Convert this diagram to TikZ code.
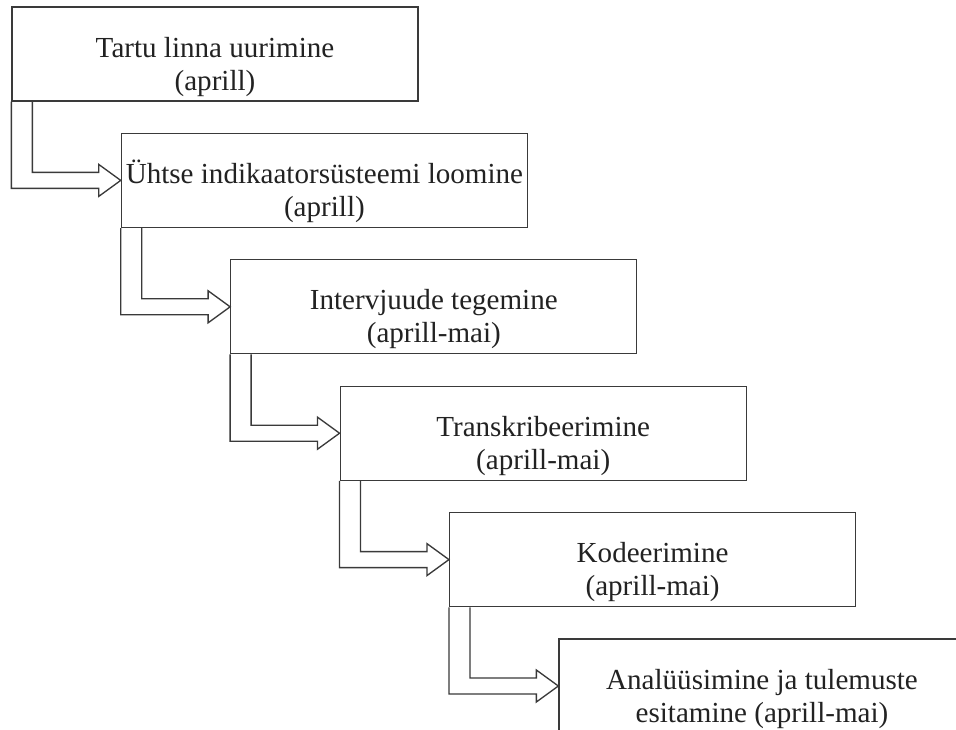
\documentclass[tikz,border=0pt]{standalone}
\usepackage{fontspec}
\setmainfont{Liberation Serif}
\usetikzlibrary{calc}
\definecolor{linec}{HTML}{3A3A3A}
\definecolor{textc}{HTML}{222222}
\tikzset{
  stagebox/.style={draw=linec, line width=1pt, rectangle, inner sep=0pt,
    minimum width=304.5pt, minimum height=70.5pt, align=center, text=textc,
    font=\fontsize{21.8pt}{24.8pt}\selectfont},
  flowarrow/.style={draw=linec, line width=1pt, line join=miter}
}
\newcommand{\topstrut}{\rule{0pt}{36.3pt}}
\newcommand{\botstrut}{\rule[-7pt]{0pt}{7pt}}
\begin{document}
\begin{tikzpicture}[x=0.75pt, y=-0.75pt]
\useasboundingbox (0,0) rectangle (956,729);
\clip (0,0) rectangle (956,729);
\fill[white] (0,0) rectangle (956,729);
\node[stagebox] (b1) at (215,54) {\topstrut Tartu linna uurimine\\(aprill)\botstrut};
\node[stagebox] (b2) at (324.4,180.4) {\topstrut Ühtse indikaatorsüsteemi loomine\\(aprill)\botstrut};
\node[stagebox] (b3) at (433.8,306.8) {\topstrut Intervjuude tegemine\\(aprill-mai)\botstrut};
\node[stagebox] (b4) at (543.2,433.2) {\topstrut Transkribeerimine\\(aprill-mai)\botstrut};
\node[stagebox] (b5) at (652.6,559.6) {\topstrut Kodeerimine\\(aprill-mai)\botstrut};
\node[stagebox] (b6) at (762,686) {\topstrut Analüüsimine ja tulemuste\\esitamine (aprill-mai)\botstrut};
\foreach \a/\b in {b1/b2,b2/b3,b3/b4,b4/b5,b5/b6}{
  \draw[flowarrow] (\a.south west)
    -- ($(\a.south west |- \b.west)+(0,8)$)
    -- ($(\b.west)+(-22,8)$)
    -- ($(\b.west)+(-22,16)$)
    -- (\b.west)
    -- ($(\b.west)+(-22,-16)$)
    -- ($(\b.west)+(-22,-8)$)
    -- ($(\a.south west |- \b.west)+(21,-8)$)
    -- ($(\a.south west)+(21,0)$);
}
\end{tikzpicture}
\end{document}
